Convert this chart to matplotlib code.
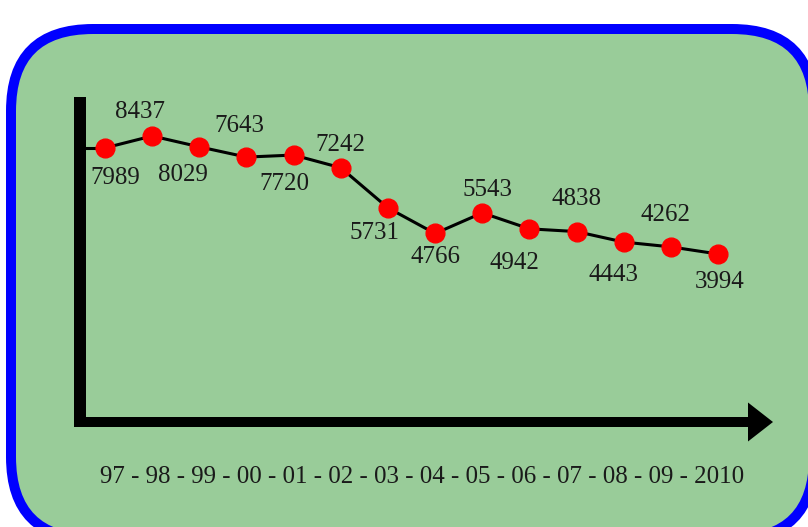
import matplotlib
matplotlib.use("Agg")
import matplotlib.pyplot as plt
from matplotlib.patches import FancyBboxPatch, FancyArrow

# ---- data ----
years = ['97', '98', '99', '00', '01', '02', '03', '04', '05', '06', '07', '08', '09', '2010']
values = [7989, 8437, 8029, 7643, 7720, 7242, 5731, 4766, 5543, 4942, 4838, 4443, 4262, 3994]

# label offsets (pixels, dx, dy of text centre relative to the point; +dy = down)
label_offsets = [(10, 28), (-12, -27), (-16, 26), (-7, -34), (-9, 26), (0, -25), (-13, 23),
                 (0, 21), (5, -25), (-15, 32), (0, -35), (-10, 30), (-5, -34), (2, 26)]

W, H = 808, 527
fig = plt.figure(figsize=(W / 100, H / 100), dpi=100)
fig.patch.set_facecolor('white')

SERIF = ['Liberation Serif', 'DejaVu Serif']
TXT = '#1a1a1a'

# background axes in pixel coordinates
bg = fig.add_axes([0, 0, 1, 1])
bg.set_xlim(0, W)
bg.set_ylim(H, 0)
bg.axis('off')

box = FancyBboxPatch((11, 29), 814 - 11, 539 - 29,
                     boxstyle='round,pad=0,rounding_size=82',
                     facecolor='#99cc99', edgecolor='#0000ff',
                     linewidth=7.2, clip_on=False)
bg.add_patch(box)

# vertical axis bar
bg.plot([80, 80], [97, 427], color='black', linewidth=12 * 0.72, solid_capstyle='butt')
# horizontal axis arrow
bg.add_patch(FancyArrow(74, 422, 699, 0, width=10, head_width=39, head_length=25,
                        length_includes_head=True, color='black', linewidth=0))

# x label
bg.text(422, 483, ' - '.join(years), ha='center', va='baseline',
        fontsize=18, family=SERIF, color=TXT)

# data axes
x = list(range(len(values)))
left_px, right_px = 105, 718
top_px, bot_px = 136, 254
ax = fig.add_axes([left_px / W, 1 - bot_px / H, (right_px - left_px) / W, (bot_px - top_px) / H])
ax.set_xlim(0, len(values) - 1)
ax.set_ylim(min(values), max(values))
ax.axis('off')
ax.patch.set_alpha(0)

# short lead-in from axis bar to first point
ax.plot([-0.42, 0], [values[0], values[0]], color='black', linewidth=2.2, clip_on=False)
ax.plot(x, values, color='black', linewidth=2.2, marker='o', markersize=13.5,
        markerfacecolor='#ff0000', markeredgecolor='#ff0000', clip_on=False, zorder=3)

for xi, v, (dx, dy) in zip(x, values, label_offsets):
    ax.annotate(str(v), (xi, v), xytext=(dx, -(dy + 8.5)), textcoords='offset pixels',
                ha='center', va='baseline', fontsize=18, family=SERIF, color=TXT,
                annotation_clip=False)

fig.savefig('out.png', dpi=100, facecolor='white')
